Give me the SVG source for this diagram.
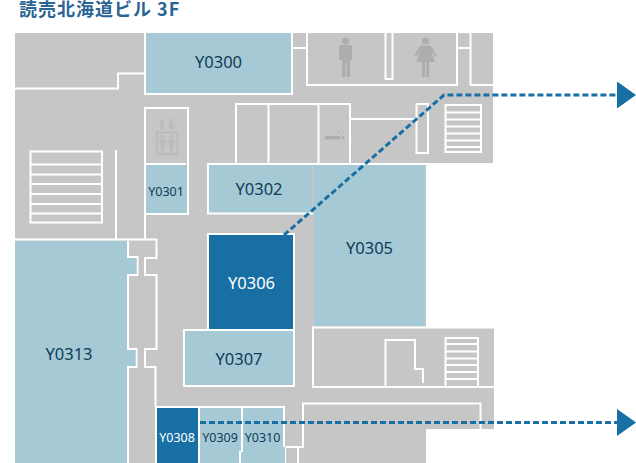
<svg xmlns="http://www.w3.org/2000/svg" width="636" height="463" viewBox="0 0 636 463">
<style>
.wall{fill:none;stroke:#fff;stroke-width:2}
.tread{stroke:#fff;stroke-width:2}
.lt{fill:#a6c9d6}
.dk{fill:#176fa3}
.room{font-family:"Noto Sans","Open Sans",sans-serif;font-size:16.500px;text-anchor:middle;fill:#0f3c58}
.sm{font-size:12.500px}
.inv{fill:#fff}
.ico{fill:#adadad}
.ico2{fill:#bbb}
.conn{fill:none;stroke:#176fa3;stroke-width:3;stroke-dasharray:6 3}
</style>
<defs>
<marker id="head" markerUnits="userSpaceOnUse" markerWidth="20" markerHeight="28" refX="0" refY="13.500" orient="auto"><path d="M0 0L19 13.500L0 27Z" fill="#176fa3"/></marker>
</defs>
<text x="19" y="16" font-family="'Noto Sans CJK JP',sans-serif" font-size="18" letter-spacing="1" font-weight="700" fill="#2a6595">読売北海道ビル 3F</text>
<g id="floor">
<path d="M15 33H493V163H426V328H494V429H426V463H15Z" fill="#c6c6c6"/>
<path class="wall" d="M15 88.500H118V73.500H145M292 48H307M307 33V85H457V33M385.500 33V79H392.500V33M458 48H470.500M470.500 33V85H493"/>
<path class="wall" d="M236 163V104H350V163M268.500 104V163M318.500 104V163M350 119H416M416.500 104V153H428V104H416.500M207 164H494"/>
<rect class="wall" x="445.500" y="105" width="35.500" height="47"/>
<path class="tread" d="M446 112.500H480M446 119.500H480M446 126.500H480M446 133.500H480M446 140.500H480M446 147H480"/>
<rect class="wall" x="30.500" y="151.500" width="71.500" height="71"/>
<path class="tread" d="M31 164.500H102M31 174.500H102M31 184H102M31 194H102M31 204H102M31 213.500H102"/>
<path class="wall" d="M116 150V240M15 239.500H156.500V258H145V275H156.500V349H145V367H155.500V406M145 213V240M128 241V257H137.500V275H128V349H136.500V367H128V463"/>
<rect class="wall" x="145" y="108" width="43" height="106"/>
<path class="wall" d="M286 447H303V403.500H480.500V429M285 447V463M298 447V463M313 326V387H494"/>
<path class="wall" d="M385.500 387V340H415V369H423V383M314 327.500H494"/>
<rect class="wall" x="445.500" y="338" width="32.500" height="49"/>
<path class="tread" d="M446 344H478M446 351.500H478M446 358.500H478M446 365H478M446 372H478M446 379H478"/>
<g id="elevator-icon" class="ico2">
<path d="M160.500 130V124H158L162 118.500L166 124H163.500V130ZM169.500 118.500V125H167L171.200 130.500L175.500 125H172.500V118.500Z"/>
<path d="M156 131.500H178.500V155H156ZM158 133.500V153H176.500V133.500Z" fill-rule="evenodd"/>
<circle cx="162.500" cy="136.500" r="1.700"/><circle cx="171.500" cy="136.500" r="1.700"/>
<path d="M159.500 139H165.500V146H164V153H161V146H159.500ZM168.500 139H174.500V146H173V153H170V146H168.500Z"/>
</g>
<g id="men-icon" class="ico">
<circle cx="345.500" cy="41" r="3.500"/>
<path d="M341 45H350.500Q352 45 352 46.500V60H350V77H346.500V62H345.500V77H342V60H339V46.500Q339 45 341 45Z"/>
</g>
<g id="women-icon" class="ico">
<circle cx="425.500" cy="41" r="3.500"/>
<path d="M421.500 45.500H429.500Q431 45.500 432 47.500L436.500 55.500L435 57L430.500 50L435 62H416L420.500 50L416 57L414.500 55.500L419 47.500Q420 45.500 421.500 45.500Z"/>
<path d="M422 62H425V77H422ZM426.200 62H429.200V77H426.200Z"/>
</g>
<g id="smoking-icon" class="ico">
<rect x="325" y="136" width="15" height="3.500"/><rect x="341" y="136" width="1.200" height="3.500"/><rect x="343" y="136" width="1.200" height="3.500"/>
<path d="M331 125Q337 129 340 134M337 126Q344 129 343.500 134" fill="none" stroke="#b5b5b5" stroke-width="0.700"/>
</g>
</g>
<g id="Y0300"><rect class="lt" x="146" y="33" width="145" height="60"/><path class="wall" d="M145 33V94H292V33"/><text class="room" x="218.500" y="68">Y0300</text></g>
<g id="Y0301"><rect class="lt" x="146" y="165" width="41" height="48"/><path class="wall" d="M146 164H186"/><text class="room sm" x="166" y="196">Y0301</text></g>
<g id="Y0302"><rect class="lt" x="208" y="165" width="104" height="48"/><path class="wall" d="M208 164V213.500H313"/><text class="room" x="259" y="195">Y0302</text></g>
<g id="Y0305"><rect class="lt" x="314" y="165" width="111" height="161"/><text class="room" x="369.500" y="254">Y0305</text></g>
<g id="Y0306"><rect class="dk" x="209" y="235" width="84" height="94"/><rect class="wall" x="208" y="234" width="86" height="96"/><text class="room inv" x="251.500" y="289">Y0306</text></g>
<g id="Y0307"><rect class="lt" x="185" y="331" width="108" height="54"/><rect class="wall" x="184" y="330" width="110" height="56"/><text class="room" x="239" y="365">Y0307</text></g>
<g id="Y0308"><rect class="dk" x="157" y="408" width="41" height="55"/><path class="wall" d="M156 463V407H199V463"/><text class="room sm inv" x="177" y="442">Y0308</text></g>
<g id="Y0309"><path class="lt" d="M200 408H241V452H239V463H200Z"/><path class="wall" d="M199 407H242V452H240V463"/><text class="room sm" x="220" y="442">Y0309</text></g>
<g id="Y0310"><path class="lt" d="M243 408H283V447H285V463H241V452H243Z"/><path class="wall" d="M242 407H284V447"/><text class="room sm" x="262.500" y="442">Y0310</text></g>
<g id="Y0313"><path class="lt" d="M15 241H127V258H136.500V274H127V350H135.500V366H127V463H15Z"/><text class="room" x="69" y="360">Y0313</text></g>
<g id="connectors">
<path class="conn" d="M284 235L444 95H617" marker-end="url(#head)"/>
<path class="conn" d="M200 422.500H617" marker-end="url(#head)"/>
</g>
</svg>
